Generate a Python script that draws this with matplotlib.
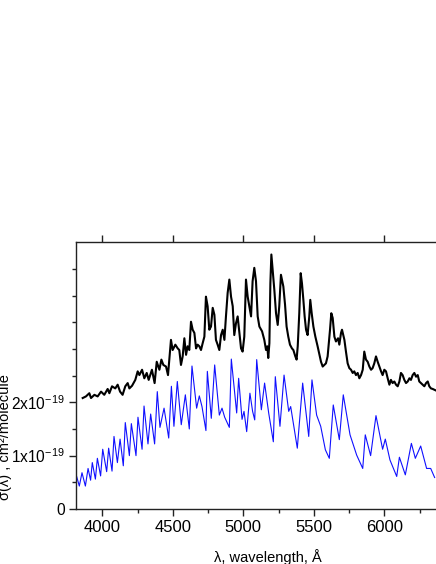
""" Absorption cross sections vs wavelength """
import matplotlib
matplotlib.use("Agg")
import matplotlib.pyplot as plt
from matplotlib.ticker import FixedLocator, FixedFormatter

plt.rcParams["font.family"] = ["Liberation Sans", "DejaVu Sans"]
plt.rcParams["mathtext.fontset"] = "custom"
plt.rcParams["mathtext.rm"] = "Liberation Sans"
plt.rcParams["mathtext.it"] = "Liberation Sans:italic"

# upper (black) spectrum, wavelength in angstrom, sigma in 1e-19 cm^2
black_wl = [3861, 3884, 3908, 3920, 3944, 3967, 3991, 4014, 4038, 4050,
            4069, 4092, 4109, 4126, 4144, 4163, 4180, 4192, 4211, 4234,
            4251, 4263, 4282, 4298, 4315, 4329, 4352, 4371, 4386, 4405,
            4419, 4433, 4452, 4466, 4487, 4499, 4518, 4535, 4546, 4558,
            4570, 4582, 4594, 4605, 4617, 4629, 4641, 4653, 4665, 4676,
            4688, 4700, 4712, 4724, 4735, 4747, 4759, 4771, 4783, 4795,
            4806, 4818, 4830, 4842, 4854, 4866, 4877, 4889, 4901, 4913,
            4925, 4936, 4948, 4960, 4972, 4984, 4995, 5007, 5019, 5031,
            5043, 5055, 5066, 5078, 5090, 5102, 5114, 5133, 5149, 5161,
            5170, 5177, 5185, 5192, 5199, 5208, 5220, 5232, 5244, 5255,
            5267, 5274, 5284, 5296, 5307, 5319, 5331, 5345, 5355, 5369,
            5378, 5386, 5397, 5407, 5416, 5426, 5435, 5445, 5456, 5468,
            5475, 5485, 5497, 5511, 5527, 5551, 5563, 5575, 5586, 5598,
            5615, 5624, 5634, 5646, 5657, 5672, 5681, 5693, 5700, 5717,
            5728, 5740, 5752, 5764, 5776, 5787, 5799, 5811, 5823, 5835,
            5847, 5858, 5870, 5882, 5894, 5906, 5917, 5929, 5941, 5953,
            5965, 5977, 5988, 6000, 6012, 6024, 6036, 6047, 6059, 6071,
            6083, 6095, 6107, 6118, 6130, 6142, 6154, 6166, 6178, 6189,
            6201, 6213, 6225, 6237, 6248, 6260, 6272, 6284, 6296, 6308,
            6319, 6331, 6343, 6367]
black_sigma = [2.08, 2.11, 2.17, 2.08, 2.14, 2.11, 2.20, 2.14, 2.25, 2.17,
               2.30, 2.26, 2.33, 2.20, 2.14, 2.30, 2.36, 2.26, 2.31, 2.42,
               2.58, 2.51, 2.61, 2.45, 2.55, 2.42, 2.61, 2.36, 2.76, 2.61,
               2.80, 2.70, 2.67, 2.51, 3.17, 2.98, 3.08, 3.01, 2.98, 2.70,
               2.86, 3.20, 2.89, 3.05, 2.98, 3.51, 3.36, 3.30, 3.01, 3.08,
               3.05, 2.98, 3.11, 3.23, 3.98, 3.80, 3.36, 3.42, 3.77, 3.64,
               3.17, 3.08, 2.98, 3.26, 3.36, 3.17, 3.61, 4.05, 4.30, 3.98,
               3.80, 3.26, 3.48, 3.61, 3.30, 3.01, 2.95, 3.23, 4.30, 3.98,
               3.80, 3.61, 4.27, 4.52, 4.27, 3.61, 3.42, 3.33, 3.17, 2.98,
               3.05, 2.83, 3.11, 4.23, 4.77, 4.48, 4.11, 3.67, 3.45, 3.80,
               4.39, 4.30, 4.17, 3.83, 3.42, 3.23, 3.08, 3.01, 2.98, 2.86,
               2.80, 3.05, 3.67, 4.42, 4.23, 3.92, 3.61, 3.36, 3.26, 3.61,
               3.92, 3.67, 3.42, 3.23, 3.05, 2.76, 2.67, 2.70, 2.73, 2.86,
               3.36, 3.67, 3.58, 3.23, 3.14, 3.20, 3.08, 3.30, 3.36, 3.17,
               2.95, 2.73, 2.64, 2.61, 2.55, 2.58, 2.51, 2.55, 2.45, 2.51,
               2.61, 2.95, 2.80, 2.76, 2.67, 2.61, 2.64, 2.73, 2.86, 2.76,
               2.67, 2.58, 2.51, 2.61, 2.58, 2.45, 2.33, 2.42, 2.36, 2.39,
               2.33, 2.30, 2.39, 2.55, 2.51, 2.42, 2.36, 2.39, 2.45, 2.42,
               2.51, 2.55, 2.48, 2.51, 2.39, 2.36, 2.33, 2.30, 2.36, 2.39,
               2.30, 2.26, 2.25, 2.22]

# lower (blue) spectrum
blue_wl = [3818, 3837, 3856, 3880, 3899, 3917, 3929, 3951, 3965, 3988,
           4003, 4031, 4045, 4069, 4083, 4107, 4126, 4149, 4163, 4192,
           4206, 4239, 4253, 4282, 4296, 4324, 4343, 4371, 4390, 4409,
           4438, 4471, 4490, 4508, 4532, 4560, 4589, 4617, 4636, 4669,
           4688, 4707, 4735, 4745, 4773, 4797, 4830, 4849, 4868, 4901,
           4915, 4953, 4967, 4991, 5005, 5024, 5047, 5066, 5081, 5095,
           5128, 5151, 5180, 5213, 5227, 5260, 5289, 5322, 5336, 5383,
           5421, 5464, 5487, 5520, 5549, 5582, 5610, 5638, 5681, 5709,
           5757, 5804, 5847, 5865, 5903, 5941, 5988, 6007, 6040, 6088,
           6107, 6149, 6192, 6220, 6258, 6300, 6329, 6357]
blue_sigma = [0.61, 0.43, 0.68, 0.43, 0.76, 0.54, 0.87, 0.56, 0.95, 0.62,
              1.12, 0.70, 1.14, 0.71, 1.36, 0.87, 1.31, 0.81, 1.62, 1.00,
              1.60, 1.00, 1.72, 1.12, 1.93, 1.22, 1.78, 1.22, 2.20, 1.53,
              1.89, 1.33, 2.30, 1.55, 2.39, 1.58, 2.14, 1.50, 2.68, 1.89,
              2.12, 1.92, 1.47, 2.58, 1.70, 2.70, 1.76, 1.89, 1.72, 1.53,
              2.81, 1.80, 2.45, 1.68, 1.83, 1.45, 2.17, 1.83, 1.67, 2.80,
              1.86, 2.36, 1.80, 1.26, 2.48, 1.55, 2.51, 1.83, 1.92, 1.14,
              2.36, 1.36, 2.42, 1.76, 1.55, 1.11, 0.95, 1.95, 1.30, 2.14,
              1.39, 1.01, 0.76, 1.39, 1.00, 1.75, 1.12, 1.31, 0.92, 0.61,
              0.97, 0.64, 1.23, 0.95, 1.18, 0.76, 0.76, 0.59]

x_ticks = [4000, 4500, 5000, 5500, 6000]
y_ticks = [0, 1, 2]
y_tick_labels = ["0", r"1x10$^{-19}$", r"2x10$^{-19}$"]

fig = plt.figure(figsize=(4.36, 5.64), dpi=100)
ax = fig.add_axes([76 / 436, 55 / 564, 370 / 436, 267.3 / 564])

ax.plot(black_wl, black_sigma, color="black", linewidth=1.5)
ax.plot(blue_wl, blue_sigma, color="#1010ff", linewidth=0.8)

ax.set_xlim(3813.5, 3813.5 + 370 * 7.092)
ax.set_ylim(0, 5.01)

ax.xaxis.set_major_locator(FixedLocator(x_ticks))
ax.xaxis.set_minor_locator(FixedLocator([3750 + 500 * i for i in range(6)]))
ax.yaxis.set_major_locator(FixedLocator(y_ticks))
ax.yaxis.set_major_formatter(FixedFormatter(y_tick_labels))
ax.yaxis.set_minor_locator(FixedLocator([0.5, 1.5, 2.5, 3.0, 3.5, 4.0, 4.5]))

ax.tick_params(axis="both", which="major", direction="out", length=5,
               width=1.0, color="#222222")
ax.tick_params(axis="both", which="minor", direction="out", length=3,
               width=1.0, color="#222222")
ax.tick_params(axis="x", which="major", top=True, labelsize=12, pad=3)
ax.tick_params(axis="y", which="major", labelsize=11.2, pad=3)

for side in ("left", "bottom", "top"):
    ax.spines[side].set_linewidth(1.0)
    ax.spines[side].set_color("#222222")
ax.spines["right"].set_visible(False)

ax.set_xlabel("λ, wavelength, Å", fontsize=10.5)
ax.xaxis.set_label_coords(0.519, -0.150)
ax.set_ylabel("σ(λ) , cm²/molecule", fontsize=10.5)
ax.yaxis.set_label_coords(-0.172, 0.27)

fig.savefig("out.png", dpi=100)
